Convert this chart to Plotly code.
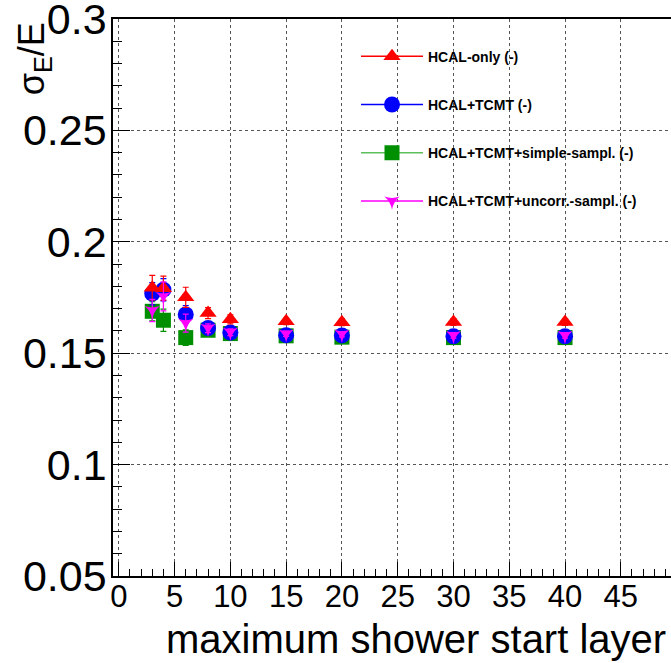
import plotly.graph_objects as go

# ---------------- data ----------------
layers = [3, 4, 6, 8, 10, 15, 20, 30, 40]

hcal_only = [0.1794, 0.1792, 0.1751, 0.1680, 0.1652, 0.1643, 0.1639, 0.1640, 0.1640]
hcal_only_err = [0.0055, 0.0054, 0.0045, 0.0025, 0.0020, 0.0015, 0.0015, 0.0015, 0.0015]

hcal_tcmt = [0.1767, 0.1785, 0.1674, 0.1613, 0.1593, 0.1581, 0.1580, 0.1576, 0.1576]
hcal_tcmt_err = [0.0050, 0.0050, 0.0040, 0.0020, 0.0015, 0.0012, 0.0012, 0.0012, 0.0012]

simple_sampl = [0.1688, 0.1648, 0.1570, 0.1603, 0.1588, 0.1578, 0.1572, 0.1570, 0.1570]
simple_sampl_err = [0.0043, 0.0050, 0.0035, 0.0020, 0.0015, 0.0012, 0.0012, 0.0012, 0.0012]

uncorr_sampl = [0.1692, 0.1755, 0.1635, 0.1612, 0.1594, 0.1587, 0.1585, 0.1580, 0.1580]
uncorr_sampl_err = [0.0050, 0.0065, 0.0040, 0.0020, 0.0015, 0.0012, 0.0012, 0.0012, 0.0012]

x_tickvals = [0, 5, 10, 15, 20, 25, 30, 35, 40, 45]
x_ticktext = ["0", "5", "10", "15", "20", "25", "30", "35", "40", "45"]
y_tickvals = [0.05, 0.1, 0.15, 0.2, 0.25, 0.3]
y_ticktext = ["0.05", "0.1", "0.15", "0.2", "0.25", "0.3"]

names = ["HCAL-only (-)", "HCAL+TCMT (-)", "HCAL+TCMT+simple-sampl. (-)",
         "HCAL+TCMT+uncorr.-sampl. (-)"]

FONT = "Liberation Sans, Arial, Helvetica, sans-serif"

fig = go.Figure()

# series styles: (y, err, name, symbol, size, marker colour, line colour, legend rank)
series = [
    (simple_sampl, simple_sampl_err, names[2], "square", 15, "#008f00", "#5cbf5c", 3),
    (hcal_tcmt, hcal_tcmt_err, names[1], "circle", 16, "#0000ff", "#0000ff", 2),
    (hcal_only, hcal_only_err, names[0], "triangle-up", 15, "#ff0000", "#ff0000", 1),
    (uncorr_sampl, uncorr_sampl_err, names[3], "star-triangle-down", 11, "#ff00ff", "#ff00ff", 4),
]

# data markers (draw order: green, blue, red, magenta)
for y, err, name, symbol, size, mcol, lcol, rank in series:
    fig.add_trace(go.Scatter(
        x=layers, y=y, mode="markers", showlegend=False,
        name=name, legendgroup=name,
        marker=dict(symbol=symbol, size=size, color=mcol, line=dict(width=0)),
        error_y=dict(type="data", array=err, visible=True, color=mcol,
                     thickness=1.2, width=3),
    ))

# legend entries (line + marker), no data drawn
for y, err, name, symbol, size, mcol, lcol, rank in series:
    fig.add_trace(go.Scatter(
        x=[None], y=[None], mode="lines+markers",
        name="<b>" + name + "</b>", legendgroup=name, legendrank=rank,
        marker=dict(symbol=symbol, size=size, color=mcol, line=dict(width=0)),
        line=dict(color=lcol, width=1.5),
    ))

fig.update_layout(
    width=671, height=663,
    margin=dict(l=113, r=0, t=19, b=87, autoexpand=False),
    paper_bgcolor="white", plot_bgcolor="white",
    font=dict(family=FONT, color="black"),
    showlegend=True,
    legend=dict(
        x=0.4355, y=0.961, xanchor="left", yanchor="top",
        bgcolor="rgba(0,0,0,0)", borderwidth=0,
        font=dict(family=FONT, size=14, color="black"),
        traceorder="grouped", tracegroupgap=27,
        itemwidth=62,
    ),
    xaxis=dict(
        range=[-0.52, 49.5], automargin=False,
        tickvals=x_tickvals, ticktext=x_ticktext,
        ticks="inside", ticklen=14, tickwidth=1, tickcolor="black",
        minor=dict(dtick=1, tick0=0, ticks="inside", ticklen=7, tickcolor="black", showgrid=False),
        showline=True, linecolor="black", linewidth=1.5, mirror=True,
        showgrid=True, gridcolor="#555555", griddash="dot", gridwidth=1,
        zeroline=False,
        tickfont=dict(family=FONT, size=31, color="black"),
        ticklabelstandoff=-8, ticklabeloverflow="allow",
    ),
    yaxis=dict(
        range=[0.05, 0.3], automargin=False,
        tickvals=y_tickvals, ticktext=y_ticktext,
        ticks="inside", ticklen=17, tickwidth=1, tickcolor="black",
        minor=dict(dtick=0.01, tick0=0.05, ticks="inside", ticklen=9, tickcolor="black", showgrid=False),
        showline=True, linecolor="black", linewidth=1.5, mirror=False,
        showgrid=True, gridcolor="#555555", griddash="dot", gridwidth=1,
        zeroline=False,
        tickfont=dict(family=FONT, size=43, color="black"),
        ticklabelstandoff=-4, ticklabeloverflow="allow",
    ),
)

fig.add_annotation(
    text="maximum shower start layer", xref="paper", yref="paper",
    x=0.9955, y=-0.113, xanchor="right", yanchor="middle", showarrow=False,
    font=dict(family=FONT, size=40, color="black"),
)
fig.add_annotation(
    text="σ<sub>E</sub>/E", xref="paper", yref="paper",
    x=-0.142, y=0.929, xanchor="center", yanchor="middle", showarrow=False,
    textangle=-90,
    font=dict(family=FONT, size=36, color="black"),
)

fig.write_html(
    "out.html",
    config={"displayModeBar": False},
    post_script="document.body.style.margin='0';document.body.style.overflow='hidden';",
)
